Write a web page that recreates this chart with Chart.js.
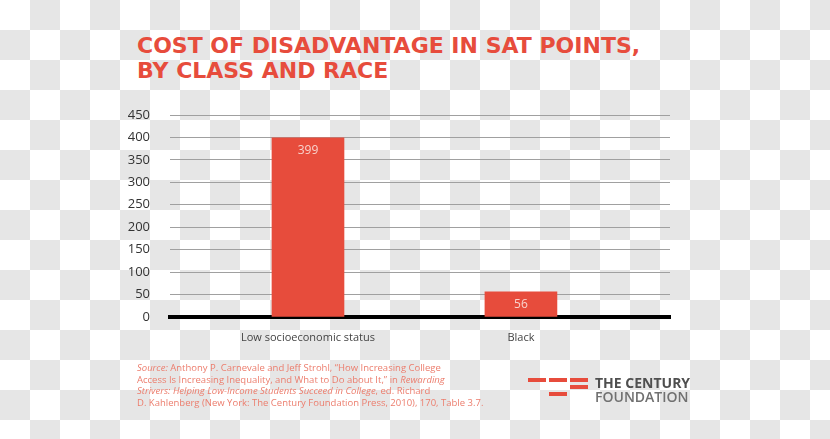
<!DOCTYPE html>
<html>
<head>
<meta charset="utf-8">
<script src="https://cdn.jsdelivr.net/npm/chart.js@4/dist/chart.umd.min.js"></script>
<style>
  html, body { margin: 0; padding: 0; }
  body {
    width: 830px; height: 439px; position: relative; overflow: hidden;
    background: repeating-conic-gradient(#e6e6e6 0 25%, #fff 0 50%) 0 0 / 60px 60px;
    font-family: "Open Sans", sans-serif;
  }
  #chart { position: absolute; left: 0; top: 0; }
  .title {
    position: absolute; left: 137px; top: 33px;
    color: #e74c3c; font-family: "DejaVu Sans", sans-serif; font-weight: 700;
    font-size: 22px; line-height: 25px; white-space: nowrap;
  }
  .source {
    position: absolute; left: 137px; top: 362px;
    color: #ec7d6d; font-size: 9.5px; line-height: 11.5px; font-family: "Open Sans", sans-serif;
    white-space: nowrap;
  }
  .logo { position: absolute; left: 528px; top: 376px; }
  .dash { position: absolute; height: 4px; width: 18px; background: #e74c3c; }
  .logo-text { position: absolute; left: 67px; top: 0px; white-space: nowrap; font-family: "Open Sans", sans-serif; }
  .logo-text .l1 { font-size: 14px; font-weight: 700; color: #4f4f4f; line-height: 14px; }
  .logo-text .l2 { font-size: 14px; font-weight: 600; color: #707070; line-height: 14px; }
</style>
</head>
<body>
<div class="title">COST OF DISADVANTAGE IN SAT POINTS,<br>BY CLASS AND RACE</div>
<canvas id="chart" width="830" height="439"></canvas>
<div class="source">
  <i>Source:</i> Anthony P. Carnevale and Jeff Strohl, “How Increasing College<br>
  Access Is Increasing Inequality, and What to Do about It,” in <i>Rewarding</i><br>
  <i>Strivers: Helping Low-Income Students Succeed in College</i>, ed. Richard<br>
  D. Kahlenberg (New York: The Century Foundation Press, 2010), 170, Table 3.7.
</div>
<div class="logo">
  <div class="dash" style="left:0;top:2px"></div>
  <div class="dash" style="left:21px;top:2px"></div>
  <div class="dash" style="left:42px;top:2px"></div>
  <div class="dash" style="left:42px;top:9px"></div>
  <div class="dash" style="left:21px;top:16px"></div>
  <div class="logo-text"><div class="l1">THE CENTURY</div><div class="l2">FOUNDATION</div></div>
</div>
<script>
const categories = ['Low socioeconomic status', 'Black'];
const satPoints = [399, 56];
const yTicks = [0, 50, 100, 150, 200, 250, 300, 350, 400, 450];

const barColor = '#e74c3c';

const valueLabels = {
  id: 'valueLabels',
  afterDatasetsDraw(chart) {
    const ctx = chart.ctx;
    const meta = chart.getDatasetMeta(0);
    ctx.save();
    ctx.fillStyle = '#f8d3cd';
    ctx.font = '12px "Open Sans", sans-serif';
    ctx.textAlign = 'center';
    ctx.textBaseline = 'middle';
    meta.data.forEach((bar, i) => {
      ctx.fillText(String(satPoints[i]), bar.x, bar.y + 13);
    });
    ctx.restore();
  }
};

new Chart(document.getElementById('chart'), {
  type: 'bar',
  data: {
    datasets: [{
      data: satPoints.map((v, i) => ({ x: i, y: v })),
      backgroundColor: barColor,
      borderWidth: 0,
      barThickness: 72,
    }],
  },
  options: {
    responsive: false,
    animation: false,
    layout: { padding: { top: 115, right: 160, left: 0, bottom: 0 } },
    plugins: { legend: { display: false }, tooltip: { enabled: false } },
    scales: {
      x: {
        type: 'linear',
        offset: false,
        min: -0.648,
        max: 1.70,
        afterBuildTicks(scale) { scale.ticks = categories.map((c, i) => ({ value: i })); },
        afterFit(scale) { scale.height = 122; },
        grid: { display: false },
        border: { display: true, color: '#000', width: 4 },
        ticks: {
          callback: (v) => categories[v],
          color: '#444',
          font: { size: 11, family: '"Open Sans", sans-serif' },
          padding: 6,
          maxRotation: 0,
        },
      },
      y: {
        min: 0,
        max: 450,
        afterBuildTicks(scale) { scale.ticks = yTicks.map(v => ({ value: v })); },
        afterFit(scale) { scale.width = 170; },
        grid: { color: '#a0a0a0', lineWidth: 1, drawTicks: false },
        border: { display: false },
        ticks: {
          color: '#333',
          font: { size: 13, family: '"Open Sans", sans-serif' },
          padding: 20,
        },
      },
    },
  },
  plugins: [valueLabels],
});
</script>
</body>
</html>
